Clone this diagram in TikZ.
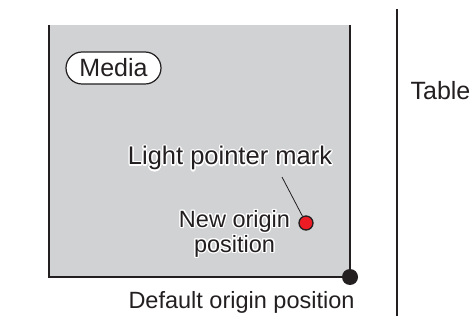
\documentclass[tikz,border=0pt]{standalone}
\usepackage{fontspec}
\setmainfont{Liberation Sans}
\usepackage{contour}
\contourlength{1.3pt}
\definecolor{mediagray}{RGB}{209,210,212}
\definecolor{inkdark}{RGB}{35,31,32}
\definecolor{dotred}{RGB}{237,28,36}
\begin{document}
\begin{tikzpicture}[x=1pt,y=-1pt,
  lbl/.style={font=\fontsize{23.5}{25}\selectfont, text=inkdark, inner sep=0pt},
  biglbl/.style={lbl, font=\fontsize{25.5}{27}\selectfont},
  pill/.style={draw=inkdark, line width=1.2pt, fill=white, rounded corners=16pt,
     minimum width=95pt, minimum height=32pt, inner sep=0pt},
  edge/.style={draw=inkdark, line width=2pt},
  leader/.style={draw=inkdark, line width=0.8pt}]
\useasboundingbox (0,0) rectangle (476,320);
% media sheet
\fill[mediagray] (49,25) rectangle (350,277);
\draw[edge] (49,25) -- (49,277) -- (350,277) -- (350,25);
% table edge
\draw[edge] (397,9) -- (397,316);
\node[biglbl, font=\fontsize{25}{27}\selectfont, anchor=base] (table) at (440.5,100) {Table};
% media label
\node[pill, biglbl, font=\fontsize{25}{27}\selectfont] (media) at (113.5,68) {Media};
% light pointer
\node[biglbl, anchor=base] (lpm) at (230,165) {\contour{white}{Light pointer mark}};
\node[circle, draw=inkdark, line width=1.3pt, fill=dotred, minimum size=14pt, inner sep=0pt] (rdot) at (306,223) {};
\coordinate (lpend) at (282,177);
\draw[leader] (lpend) -- (rdot);
\node[lbl, align=center] (neworig) at (234.5,234.5) {\contour{white}{New origin}\\\contour{white}{position}};
% default origin
\node[circle, fill=inkdark, minimum size=16pt, inner sep=0pt] (dflt) at (350,277) {};
\node[lbl, anchor=base] (dlabel) at (241.5,308) {Default origin position};
\end{tikzpicture}
\end{document}
